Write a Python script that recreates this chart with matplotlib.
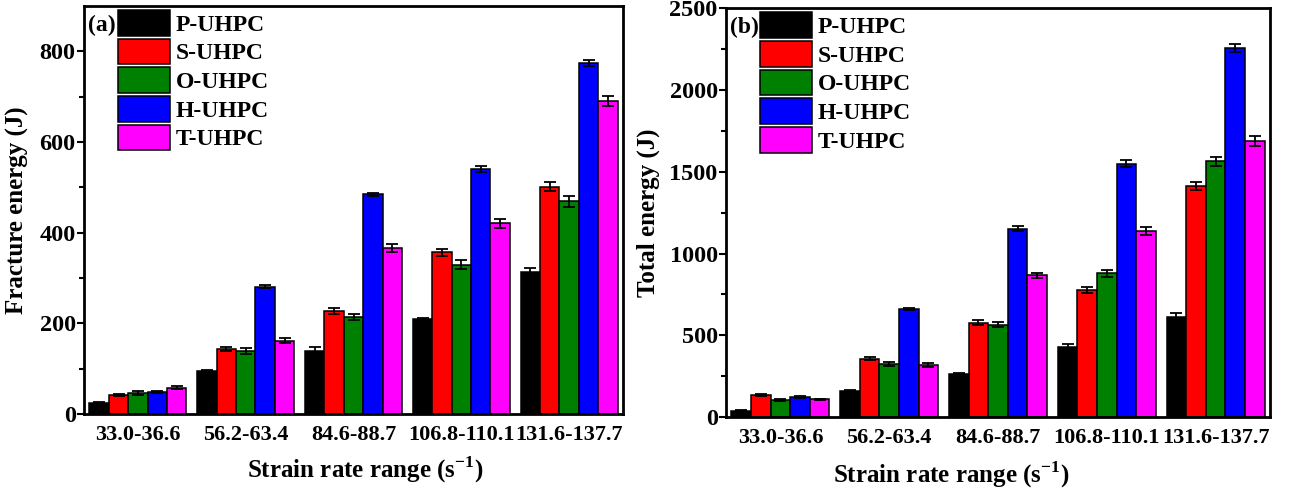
import numpy as np
import matplotlib
matplotlib.use('Agg')
import matplotlib.pyplot as plt

plt.rcParams['font.family'] = 'Liberation Serif'
plt.rcParams['font.weight'] = 'bold'
plt.rcParams['mathtext.fontset'] = 'custom'
plt.rcParams['mathtext.rm'] = 'Liberation Serif:bold'
plt.rcParams['mathtext.bf'] = 'Liberation Serif:bold'

# strain rate groups and specimen series
ranges = ['33.0-36.6', '56.2-63.4', '84.6-88.7', '106.8-110.1', '131.6-137.7']
series = ['P-UHPC', 'S-UHPC', 'O-UHPC', 'H-UHPC', 'T-UHPC']
colors = ['#000000', '#ff0000', '#008000', '#0000ff', '#ff00ff']

# (a) fracture energy, J
frac_P = [24, 95, 139, 209, 314]
frac_S = [42, 143, 227, 357, 501]
frac_O = [47, 139, 214, 329, 469]
frac_H = [49, 281, 485, 540, 775]
frac_T = [58, 162, 367, 421, 690]
frac_P_err = [2, 2, 8, 3, 9]
frac_S_err = [3, 5, 6, 8, 10]
frac_O_err = [4, 7, 7, 10, 13]
frac_H_err = [2, 3, 3, 7, 7]
frac_T_err = [3, 5, 9, 10, 11]

# (b) total energy, J
tot_P = [38, 159, 263, 430, 613]
tot_S = [133, 357, 577, 777, 1413]
tot_O = [104, 324, 565, 879, 1563]
tot_H = [124, 660, 1152, 1549, 2255]
tot_T = [108, 316, 867, 1138, 1688]
tot_P_err = [4, 5, 8, 15, 25]
tot_S_err = [5, 10, 15, 20, 25]
tot_O_err = [6, 12, 15, 22, 25]
tot_H_err = [5, 8, 15, 20, 25]
tot_T_err = [5, 12, 15, 25, 28]

frac = [frac_P, frac_S, frac_O, frac_H, frac_T]
frac_err = [frac_P_err, frac_S_err, frac_O_err, frac_H_err, frac_T_err]
tot = [tot_P, tot_S, tot_O, tot_H, tot_T]
tot_err = [tot_P_err, tot_S_err, tot_O_err, tot_H_err, tot_T_err]

fig = plt.figure(figsize=(13.05, 4.93), dpi=100)
ax1 = fig.add_axes([0.0644, 0.1602, 0.4130, 0.8276])
ax2 = fig.add_axes([0.5563, 0.1542, 0.4169, 0.8290])

x = np.arange(1, len(ranges) + 1)
w = 0.18


def draw_panel(ax, vals, errs, ylim, major, minor, ylabel, tag,
               xlab_pos, ylab_pos):
    for i, (v, e) in enumerate(zip(vals, errs)):
        pos = x + (i - 2) * w
        ax.bar(pos, v, width=w, color=colors[i], edgecolor='black',
               linewidth=1.1, label=series[i], zorder=2)
        ax.errorbar(pos, v, yerr=e, fmt='none', ecolor='black',
                    elinewidth=1.3, capsize=4, capthick=1.3, zorder=3)
    ax.set_xlim(0.5, 5.5)
    ax.set_ylim(*ylim)
    ax.set_xticks(x)
    ax.set_xticklabels(ranges)
    ax.set_yticks(np.arange(ylim[0], ylim[1] + 1, major))
    ax.set_yticks(np.arange(ylim[0] + minor, ylim[1], major), minor=True)
    ax.tick_params(axis='x', length=0, pad=8, labelsize=16)
    ax.tick_params(axis='y', which='major', direction='out', length=5,
                   width=1.5, pad=1, labelsize=17.5)
    ax.tick_params(axis='y', which='minor', direction='out', length=3.5,
                   width=1.5)
    for sp in ax.spines.values():
        sp.set_linewidth(2)
    ax.set_xlabel(r'Strain rate range (s$^{\mathbf{-1}}$)', fontsize=18,
                  fontweight='bold')
    ax.set_ylabel(ylabel, fontsize=18, fontweight='bold')
    ax.xaxis.set_label_coords(*xlab_pos)
    ax.yaxis.set_label_coords(*ylab_pos)
    ax.text(0.008, 0.978, tag, transform=ax.transAxes, fontsize=17,
            fontweight='bold', va='top', ha='left')
    ax.legend(loc='upper left', bbox_to_anchor=(0.063, 0.99), frameon=False,
              fontsize=17, handlelength=2.2, handleheight=1.3,
              labelspacing=0.12, handletextpad=0.25, borderpad=0,
              borderaxespad=0)


draw_panel(ax1, frac, frac_err, (0, 900), 200, 100,
           'Fracture energy (J)', '(a)', (0.521, -0.100), (-0.102, 0.5))
draw_panel(ax2, tot, tot_err, (0, 2500), 500, 250,
           'Total energy (J)', '(b)', (0.415, -0.103), (-0.121, 0.5))

fig.savefig('out.png', dpi=100)
